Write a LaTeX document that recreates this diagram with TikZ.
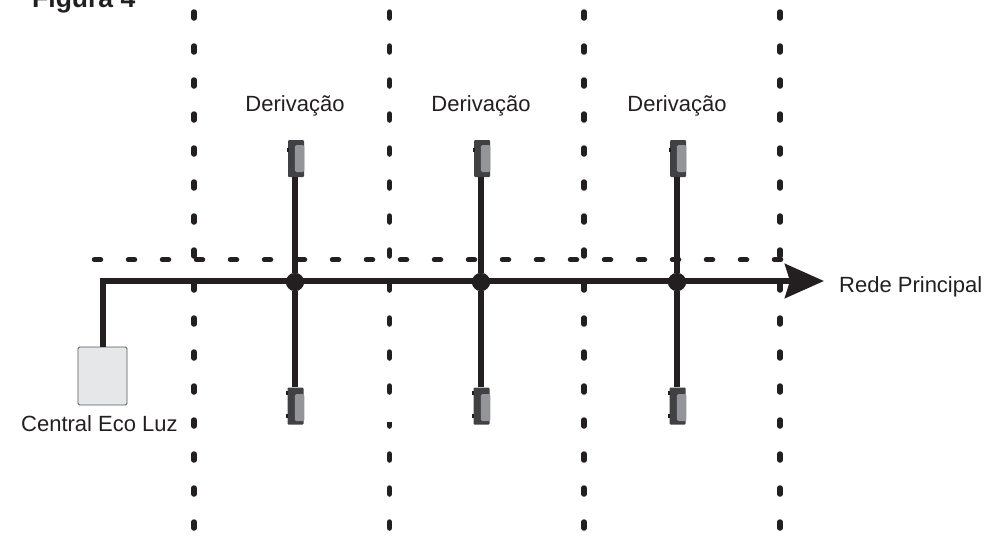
\documentclass[tikz,border=0pt]{standalone}
\usepackage{fontspec}
\setmainfont{Liberation Sans}
\usetikzlibrary{arrows.meta}
\definecolor{ink}{HTML}{231F20}
\definecolor{sensordark}{HTML}{414042}
\definecolor{sensorlight}{HTML}{939598}
\definecolor{boxfill}{HTML}{E6E7E8}
\definecolor{boxedge}{HTML}{58595B}
\tikzset{
  dotline/.style={draw=ink,line width=5.5pt,line cap=round,dash pattern=on 6pt off 28pt},
  dashhoriz/.style={draw=ink,line width=5.5pt,line cap=round,dash pattern=on 6pt off 28pt},
  cable/.style={draw=ink,line width=6pt},
  junction/.style={circle,fill=ink,minimum size=18pt,inner sep=0pt},
  sensorbody/.style={rectangle,fill=sensordark,minimum width=16pt,minimum height=37pt,inner sep=0pt,rounded corners=1pt},
  sensorface/.style={rectangle,fill=sensorlight,minimum width=9.5pt,minimum height=27pt,inner sep=0pt,rounded corners=1.5pt},
  sensortab/.style={rectangle,fill=ink,minimum width=2pt,minimum height=4pt,inner sep=0pt},
  central/.style={rectangle,draw=boxedge,fill=boxfill,line width=0.8pt,rounded corners=1.5pt,minimum width=49pt,minimum height=58pt,inner sep=0pt},
  label/.style={text=ink,font=\fontsize{22pt}{24pt}\selectfont,inner sep=0pt,anchor=base},
}
\begin{document}
\begin{tikzpicture}[x=1pt,y=-1pt]
\useasboundingbox (0,0) rectangle (1002,536);
\clip (0,0) rectangle (1002,536);
% dotted vertical lines
\foreach \x in {194,584,780}{
  \draw[dotline] (\x,12) -- (\x,530);
}
\draw[dotline] (389.5,12) -- (389.5,395);
\draw[draw=ink,line width=5.5pt] (389.5,421.5) -- (389.5,426);
\draw[draw=ink,line width=5.5pt,line cap=round] (389.5,425) -- (389.5,426);
\draw[dotline] (389.5,454) -- (389.5,530);
% dashed horizontal line
\draw[dashhoriz] (94.5,259.7) -- (782,259.7);
% nodes
\node[central] (box) at (102.5,376) {};
\node[junction] (j1) at (295,282) {};
\node[junction] (j2) at (481,282) {};
\node[junction] (j3) at (677,282) {};
\coordinate (tip) at (824,281);
\foreach \n/\x in {1/296,2/482,3/678}{
  \node[sensorbody] (t\n) at (\x,158.5) {};
  \node[sensorface] at (\x+3.7,158.5) {};
  \node[sensortab] at (\x-8.5,149.5) {};
  \node[sensorbody] (b\n) at (\x-.5,406) {};
  \node[sensorface] at (\x+3.5,407.5) {};
  \node[sensortab] at (\x-9,393) {};
  \node[sensortab] at (\x-9,416) {};
}
% cables
\draw[cable] (j1) -- (j1|-t1.south);
\draw[cable] (j1) -- (j1|-b1.north);
\draw[cable] (j2) -- (j2|-t2.south);
\draw[cable] (j2) -- (j2|-b2.north);
\draw[cable] (j3) -- (j3|-t3.south);
\draw[cable] (j3) -- (j3|-b3.north);
\draw[cable,-{Stealth[length=39pt,width=34pt,inset=5pt]}] (box.north) |- (tip);
\node[junction] at (j1) {};
\node[junction] at (j2) {};
\node[junction] at (j3) {};
% labels
\node[label] (d1) at (295,111) {Derivação};
\node[label] (d2) at (481,111) {Derivação};
\node[label] (d3) at (677,111) {Derivação};
\node[label,anchor=base west] (rede) at (839,292) {Rede Principal};
\node[label,anchor=base west] (cen) at (21,431) {Central Eco Luz};
\node[label,anchor=base west,font=\bfseries\fontsize{26.5pt}{28pt}\selectfont] (fig) at (32,7) {Figura 4};
\end{tikzpicture}
\end{document}
